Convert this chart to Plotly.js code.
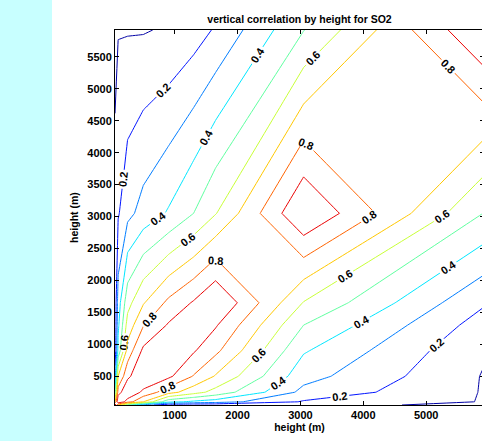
<!DOCTYPE html>
<html>
<head>
<meta charset="utf-8">
<script src="https://cdn.plot.ly/plotly-3.0.1.min.js"></script>
<style>
  html, body { margin: 0; padding: 0; overflow: hidden; width: 482px; height: 441px;
    background: linear-gradient(to right, rgb(200,255,255) 0px, rgb(200,255,255) 52px, #ffffff 52px); }
  #chart { width: 486px; height: 441px; }
</style>
</head>
<body>
<div id="chart"></div>
<script>
// Heights (m) of the grid, same on both axes
const heights = [50, 100, 250, 500, 900, 1300, 1650, 3050, 5920];

// Correlation of each height with every height in `heights`
const corrAt50   = [1.000, 0.700, 0.450, 0.250, 0.130, 0.120, 0.120, 0.130, 0.075];
const corrAt100  = [0.700, 1.000, 0.850, 0.700, 0.430, 0.380, 0.350, 0.190, 0.095];
const corrAt250  = [0.450, 0.850, 1.000, 0.875, 0.740, 0.640, 0.565, 0.271, 0.094];
const corrAt500  = [0.250, 0.700, 0.875, 1.000, 0.922, 0.794, 0.692, 0.337, 0.094];
const corrAt900  = [0.130, 0.430, 0.740, 0.922, 1.000, 0.910, 0.823, 0.410, 0.110];
const corrAt1300 = [0.120, 0.380, 0.640, 0.794, 0.910, 1.000, 0.910, 0.500, 0.153];
const corrAt1650 = [0.120, 0.350, 0.565, 0.692, 0.823, 0.910, 1.000, 0.595, 0.211];
const corrAt3050 = [0.130, 0.190, 0.271, 0.337, 0.410, 0.500, 0.595, 1.000, 0.497];
const corrAt5920 = [0.075, 0.095, 0.094, 0.094, 0.110, 0.153, 0.211, 0.497, 1.000];

// Contour levels, their line colours (jet) and which ones carry labels
const levels = [0.1, 0.2, 0.3, 0.4, 0.5, 0.6, 0.7, 0.8, 0.9];
const levelColors = ['rgb(0,0,165)', 'rgb(0,20,255)', 'rgb(0,125,255)', 'rgb(0,230,255)',
  'rgb(95,255,160)', 'rgb(200,255,55)', 'rgb(255,200,0)', 'rgb(255,100,0)', 'rgb(235,0,0)'];
const labeledLevels = [0.2, 0.4, 0.6, 0.8];

// Axis ticks
const xTicks = [1000, 2000, 3000, 4000, 5000];
const yTicks = [500, 1000, 1500, 2000, 2500, 3000, 3500, 4000, 4500, 5000, 5500];

const z = [corrAt50, corrAt100, corrAt250, corrAt500, corrAt900, corrAt1300, corrAt1650, corrAt3050, corrAt5920];

const FONT = 'Liberation Sans, Arial, Helvetica, sans-serif';

// One trace per level. Labelled levels get extra (empty, above 1) levels so
// Plotly spaces labels more densely along each line.
const traces = levels.map((lv, i) => {
  const labeled = labeledLevels.includes(lv);
  return {
    type: 'contour',
    x: heights,
    y: heights,
    z: z,
    autocontour: false,
    contours: {
      start: lv, end: labeled ? lv + 59 : lv, size: 1,
      coloring: 'none',
      showlabels: labeled,
      labelformat: '.1f',
      labelfont: { family: FONT, size: 11, color: '#000', weight: 'bold' }
    },
    line: { color: levelColors[i], width: 1, smoothing: 0 },
    showscale: false,
    hoverinfo: 'skip'
  };
});

const axisFont = { family: FONT, size: 11, color: '#000', weight: 'bold' };

const layout = {
  width: 486, height: 441,
  margin: { l: 115, r: 2, t: 30, b: 36 },
  paper_bgcolor: 'rgba(0,0,0,0)',
  plot_bgcolor: '#ffffff',
  showlegend: false,
  title: {
    text: 'vertical correlation by height for SO2',
    font: { family: FONT, size: 10.5, color: '#000', weight: 'bold' },
    x: 0.5, xref: 'paper', xanchor: 'center',
    y: 1 - 19 / 441, yref: 'container', yanchor: 'middle'
  },
  xaxis: {
    range: [50, 5920], tickvals: xTicks, ticktext: xTicks.map(String),
    ticks: 'inside', ticklen: 4, tickcolor: '#000', tickwidth: 1,
    showline: true, linecolor: '#000', linewidth: 1, mirror: 'ticks',
    showgrid: false, zeroline: false, tickfont: axisFont,
    title: { text: 'height (m)', font: { family: FONT, size: 10.5, color: '#000', weight: 'bold' }, standoff: 2 },
    automargin: false
  },
  yaxis: {
    range: [50, 5920], tickvals: yTicks, ticktext: yTicks.map(String),
    ticks: 'inside', ticklen: 4, tickcolor: '#000', tickwidth: 1,
    showline: true, linecolor: '#000', linewidth: 1, mirror: 'ticks',
    showgrid: false, zeroline: false, tickfont: axisFont,
    title: { text: 'height (m)', font: { family: FONT, size: 10.5, color: '#000', weight: 'bold' }, standoff: 6 },
    automargin: false
  }
};

Plotly.newPlot('chart', traces, layout, { staticPlot: true, displayModeBar: false });
</script>
</body>
</html>
